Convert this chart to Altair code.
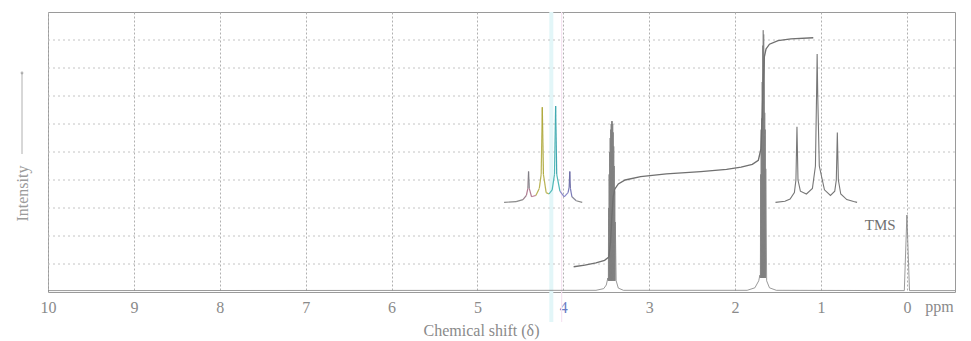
import altair as alt
import pandas as pd

# ---- data (ppm, intensity 0-100) ----
spec_ppm = [10.0, 3.62, 3.53, 3.50, 3.482,
            3.476, 3.473, 3.470, 3.467, 3.464, 3.461, 3.458, 3.455, 3.452, 3.449, 3.446, 3.443,
            3.440, 3.437, 3.434, 3.431, 3.428, 3.425, 3.422, 3.419, 3.416, 3.413, 3.410, 3.407,
            3.404, 3.401, 3.398, 3.395,
            3.385, 3.36, 3.30,
            1.86, 1.77, 1.725, 1.712,
            1.706, 1.703, 1.700, 1.697, 1.694, 1.691, 1.688, 1.685, 1.682, 1.679, 1.676, 1.673,
            1.670, 1.667, 1.664, 1.661, 1.658, 1.655, 1.652, 1.649, 1.646, 1.643,
            1.633, 1.60, 1.52,
            0.03, 0.0, -0.03, -0.56]
spec_int = [0.5, 0.6, 1.2, 2.5, 5.0,
            4.0, 30.0, 4.0, 42.0, 4.0, 50.0, 4.0, 55.0, 4.0, 58.0, 4.0, 60.0,
            4.0, 61.0, 4.0, 61.0, 4.0, 60.0, 4.0, 57.0, 4.0, 52.0, 4.0, 45.0,
            4.0, 36.0, 4.0, 25.0,
            4.0, 1.4, 0.6,
            0.6, 1.5, 4.0, 6.0,
            5.0, 42.0, 5.0, 58.0, 5.0, 62.0, 5.0, 75.0, 5.0, 88.0, 5.0, 93.5,
            5.0, 92.0, 5.0, 84.0, 5.0, 64.0, 5.0, 58.0, 5.0, 44.0,
            4.0, 1.5, 0.6,
            0.5, 27.5, 0.5, 0.5]

integ_ppm = [3.88, 3.75, 3.62, 3.52, 3.47, 3.45, 3.435, 3.42, 3.40, 3.36, 3.28, 3.10, 2.80, 2.40,
             2.10, 1.93, 1.80, 1.73, 1.70, 1.685, 1.672, 1.66, 1.64, 1.60, 1.50, 1.35, 1.09]
integ_int = [9.0, 9.6, 10.4, 11.3, 12.5, 18.0, 27.0, 34.0, 36.8, 38.6, 40.0, 41.2, 42.2, 43.0,
             43.8, 44.6, 45.6, 47.0, 51.0, 62.0, 76.0, 84.0, 86.8, 88.5, 89.8, 90.4, 90.8]

q_ppm = [4.69, 4.55, 4.47, 4.43, 4.413, 4.405, 4.397, 4.37, 4.32, 4.28, 4.258, 4.245, 4.232, 4.20,
         4.167, 4.13, 4.103, 4.09, 4.077, 4.04, 3.99, 3.945, 3.932, 3.925, 3.918, 3.90, 3.85, 3.78]
q_int = [32.0, 32.3, 33.0, 34.5, 37.0, 43.0, 37.0, 34.0, 34.5, 37.0, 42.0, 66.0, 42.0, 35.5,
         35.0, 36.5, 42.0, 66.4, 42.0, 36.0, 34.0, 35.5, 37.5, 43.0, 37.0, 34.0, 32.6, 32.0]
q_col = ["#8a8a8a", "#8a8a8a", "#9a7f8c", "#b07a90", "#8f7f88", "#7f7f86", "#b07a90", "#c08aa0",
         "#b9b455", "#b9b455", "#b9b455", "#b0aa40", "#b9b455", "#b9b455",
         "#4fb8b8", "#4fb8b8", "#4fb8b8", "#40a8b0", "#4fb8b8", "#8a8ac8",
         "#8a8ac8", "#7a7ab8", "#6f6fa8", "#6f6fa8", "#7a7ab8", "#8a8a9a", "#8a8a8a", "#8a8a8a"]

t_ppm = [1.53, 1.42, 1.36, 1.31, 1.292, 1.28, 1.268, 1.24, 1.17, 1.10, 1.065, 1.052, 1.045, 1.038,
         1.02, 0.96, 0.89, 0.84, 0.822, 0.81, 0.798, 0.77, 0.70, 0.62, 0.58]
t_int = [32.0, 32.4, 33.2, 35.5, 40.0, 59.0, 40.0, 36.0, 35.0, 37.0, 45.0, 70.0, 85.0, 70.0,
         45.0, 36.5, 34.5, 36.0, 40.0, 57.0, 40.0, 35.0, 33.0, 32.3, 32.0]

# faint coloured scan stripes seen across the reference
stripe_ppm = [4.14, 4.02]
stripe_col = ["#e2f6f8", "#f6e4f2"]
stripe_w = [4, 1.2]

tick_vals = [10, 9, 8, 7, 6, 5, 4, 3, 2, 1, 0]
grid_y = [10, 20, 30, 40, 50, 60, 70, 80, 90]

X_DOMAIN = [10.0, -0.56]
SERIF = "Liberation Serif"
W, H = 907, 280

spec = pd.DataFrame({"ppm": spec_ppm, "i": spec_int, "o": range(len(spec_ppm))})
integ = pd.DataFrame({"ppm": integ_ppm, "i": integ_int, "o": range(len(integ_ppm))})
tri = pd.DataFrame({"ppm": t_ppm, "i": t_int, "o": range(len(t_ppm))})
seg = pd.DataFrame({"ppm": q_ppm[:-1], "ppm2": q_ppm[1:], "i": q_int[:-1], "i2": q_int[1:],
                    "c": q_col[:-1]})
stripes = pd.DataFrame({"ppm": stripe_ppm, "c": stripe_col, "w": stripe_w})
gy = pd.DataFrame({"i": grid_y})

xs = alt.Scale(domain=X_DOMAIN, nice=False, zero=False)
ys = alt.Scale(domain=[0, 100], nice=False, zero=False)

xaxis = alt.Axis(values=tick_vals, format="d", ticks=False, domain=False, grid=True,
                 gridColor="#b0b0b0", gridDash=[2, 2], gridWidth=1, labelFont=SERIF,
                 labelFontSize=16,
                 labelColor=alt.condition("datum.value == 4", alt.value("#6a7cc4"),
                                          alt.value("#8a8a8a")),
                 labelPadding=7, labelFlush=False, title="Chemical shift (δ)",
                 titleFont=SERIF, titleFontSize=16, titleFontWeight="normal",
                 titleColor="#8a8a8a", titleX=433, titleY=43, titleBaseline="alphabetic",
                 titleAlign="center")
yaxis = alt.Axis(ticks=False, domain=False, labels=False, grid=False, title="Intensity",
                 titleFont=SERIF, titleFontSize=16, titleFontWeight="normal",
                 titleColor="#9a9a9a", titleX=-26, titleY=181, titleAngle=-90,
                 titleBaseline="middle", titleAlign="center")

stripe_layer = alt.Chart(stripes).mark_rule().encode(
    x=alt.X("ppm:Q", scale=xs, axis=xaxis),
    y=alt.value(0), y2=alt.value(H + 30),
    color=alt.Color("c:N", scale=None),
    strokeWidth=alt.StrokeWidth("w:Q", scale=None))
hgrid = alt.Chart(gy).mark_rule(color="#c4c4c4", strokeDash=[2, 3], strokeWidth=1).encode(
    y=alt.Y("i:Q", scale=ys, axis=yaxis))
base_spec = alt.Chart(spec).mark_line(color="#808080", strokeWidth=0.8).encode(
    x=alt.X("ppm:Q", scale=xs),
    y=alt.Y("i:Q", scale=ys),
    order="o:Q",
)
integ_line = alt.Chart(integ).mark_line(color="#707070", strokeWidth=1.4).encode(
    x=alt.X("ppm:Q", scale=xs), y=alt.Y("i:Q", scale=ys), order="o:Q")
tri_line = alt.Chart(tri).mark_line(color="#777777", strokeWidth=1.1).encode(
    x=alt.X("ppm:Q", scale=xs), y=alt.Y("i:Q", scale=ys), order="o:Q")
quart = alt.Chart(seg).mark_rule(strokeWidth=1.2).encode(
    x=alt.X("ppm:Q", scale=xs), x2="ppm2:Q",
    y=alt.Y("i:Q", scale=ys), y2="i2:Q",
    color=alt.Color("c:N", scale=None))

tms = alt.Chart(pd.DataFrame({"ppm": [0.31], "i": [24.0], "t": ["TMS"]})).mark_text(
    font=SERIF, fontSize=15, color="#707070", baseline="middle", align="center").encode(
    x=alt.X("ppm:Q", scale=xs), y=alt.Y("i:Q", scale=ys), text="t:N")
ppm_lab = alt.Chart(pd.DataFrame({"ppm": [-0.38], "t": ["ppm"]})).mark_text(
    font=SERIF, fontSize=16, color="#8a8a8a", baseline="top", align="center").encode(
    x=alt.X("ppm:Q", scale=xs), y=alt.value(H + 7), text="t:N")
arrow = alt.Chart(pd.DataFrame({"a": [0]})).mark_rule(color="#b0b0b0", strokeWidth=1).encode(
    x=alt.value(-26), y=alt.value(61), y2=alt.value(142))
arrow_dot = alt.Chart(pd.DataFrame({"a": [0]})).mark_point(
    color="#999999", filled=True, size=8).encode(x=alt.value(-26), y=alt.value(61))

chart = alt.layer(stripe_layer, hgrid, base_spec, integ_line, tri_line, quart, tms, ppm_lab,
                  arrow, arrow_dot).properties(
    width=W, height=H,
    autosize=alt.AutoSizeParams(type="none"),
    padding={"left": 40, "top": 4, "right": 8, "bottom": 49},
    background="white",
).configure_view(stroke="#9a9a9a", strokeWidth=1)

chart.save("out.html", embed_options={"renderer": "svg", "actions": False})
